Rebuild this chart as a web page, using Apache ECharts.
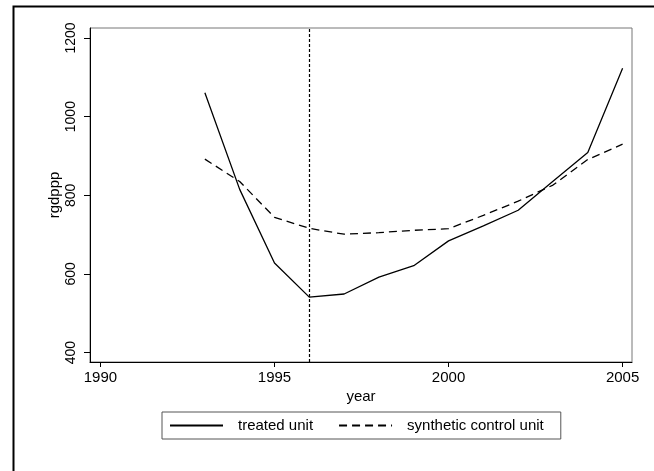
<!DOCTYPE html>
<html>
<head>
<meta charset="utf-8">
<script src="https://cdn.jsdelivr.net/npm/echarts@6/dist/echarts.min.js"></script>
<style>
html,body{margin:0;padding:0;background:#fff;}
#chart{width:654px;height:471px;}
</style>
</head>
<body>
<div id="chart"></div>
<script>
var years = [1993, 1994, 1995, 1996, 1997, 1998, 1999, 2000, 2001, 2002, 2003, 2004, 2005];
var treatedUnit = [1061, 815, 628, 541, 549, 592, 621, 684, 722, 762, 836, 909, 1123];
var syntheticControl = [892, 835, 744, 716, 701, 705, 711, 715, 749, 785, 826, 891, 930];
var xTicks = [1990, 1995, 2000, 2005];
var yTicks = [400, 600, 800, 1000, 1200];
var treatmentYear = 1996;

var FONT = '"Liberation Sans", Arial, Helvetica, sans-serif';
var chart = echarts.init(document.getElementById('chart'), null, {renderer: 'canvas'});

function pairs(xs, ys) {
  return xs.map(function (x, i) { return [x, ys[i]]; });
}
function plain(v) { return String(v); }

chart.setOption({
  backgroundColor: '#fff',
  animation: false,
  graphic: [{
    type: 'rect',
    left: 11, top: 4,
    shape: {x: 0, y: 0, width: 700, height: 520},
    style: {fill: 'none', stroke: '#000', lineWidth: 2},
    silent: true, z: -1
  }],
  grid: {
    left: 90, top: 28, width: 542, height: 334,
    show: true, borderColor: '#777', borderWidth: 1, backgroundColor: '#fff'
  },
  legend: {
    left: 162, top: 412,
    padding: [6, 17, 6, 7],
    borderColor: '#555', borderWidth: 1,
    itemWidth: 53, itemHeight: 10, itemGap: 25,
    itemStyle: {opacity: 0},
    textStyle: {fontFamily: FONT, fontSize: 15, color: '#000', padding: [0, 0, 0, 10]},
    data: ['treated unit', 'synthetic control unit']
  },
  xAxis: {
    type: 'value',
    min: 1989.7, max: 2005.27,
    name: 'year', nameLocation: 'middle', nameGap: 27,
    nameMoveOverlap: false,
    nameTextStyle: {fontFamily: FONT, fontSize: 15, color: '#000'},
    axisLine: {show: true, onZero: false, lineStyle: {color: '#000', width: 1}},
    axisTick: {show: true, length: 5, customValues: xTicks, lineStyle: {color: '#000'}},
    axisLabel: {customValues: xTicks, formatter: plain, fontFamily: FONT, fontSize: 15, color: '#000', margin: 8},
    splitLine: {show: false}
  },
  yAxis: {
    type: 'value',
    min: 376, max: 1225.5,
    name: 'rgdppp', nameLocation: 'middle', nameGap: 28,
    nameMoveOverlap: false,
    nameTextStyle: {fontFamily: FONT, fontSize: 15, color: '#000'},
    axisLine: {show: true, onZero: false, lineStyle: {color: '#000', width: 1}},
    axisTick: {show: true, length: 6, customValues: yTicks, lineStyle: {color: '#000'}},
    axisLabel: {customValues: yTicks, formatter: plain, rotate: 90, fontFamily: FONT, fontSize: 14, color: '#000', margin: 12},
    splitLine: {show: false}
  },
  series: [{
    name: 'treated unit',
    type: 'line',
    data: pairs(years, treatedUnit),
    symbol: 'none',
    lineStyle: {color: '#000', width: 1.3, type: 'solid'},
    itemStyle: {color: '#000'}
  }, {
    name: 'synthetic control unit',
    type: 'line',
    data: pairs(years, syntheticControl),
    symbol: 'none',
    lineStyle: {color: '#000', width: 1.3, type: [8, 5]},
    itemStyle: {color: '#000'},
    markLine: {
      silent: true,
      symbol: ['none', 'none'],
      label: {show: false},
      lineStyle: {color: '#000', width: 1.2, type: [3, 2]},
      data: [{xAxis: treatmentYear}]
    }
  }]
});
</script>
</body>
</html>
